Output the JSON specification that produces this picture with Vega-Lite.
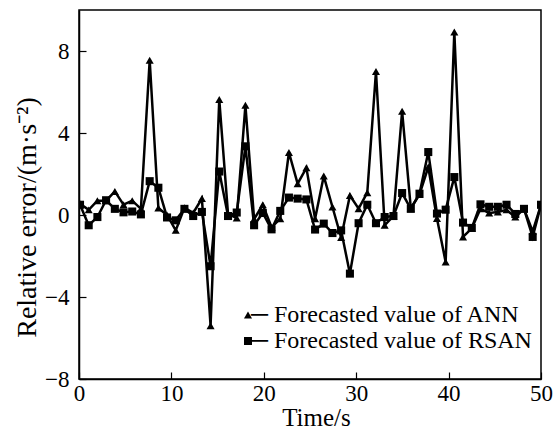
{
  "$schema": "https://vega.github.io/schema/vega-lite/v6.json",
  "width": 462,
  "height": 369,
  "autosize": {"type": "none"},
  "padding": {"left": 79, "top": 10, "right": 13, "bottom": 53},
  "background": "white",
  "config": {
    "view": {"stroke": "black", "strokeWidth": 1.5},
    "font": "Liberation Serif",
    "axis": {
      "labelFont": "Liberation Serif",
      "titleFont": "Liberation Serif",
      "labelFontSize": 23,
      "titleFontSize": 25,
      "titleFontWeight": "normal",
      "labelColor": "black",
      "titleColor": "black",
      "domainColor": "black",
      "domainWidth": 1.5,
      "tickColor": "black",
      "tickWidth": 1.2,
      "grid": false
    },
    "legend": {
      "labelFont": "Liberation Serif",
      "labelFontSize": 24,
      "labelColor": "black"
    }
  },
  "datasets": {
    "series": [
      {"t": 0.11, "ANN": 0.55, "RSAN": 0.5},
      {"t": 1.05, "ANN": 0.25, "RSAN": -0.5},
      {"t": 1.99, "ANN": 0.7, "RSAN": -0.1},
      {"t": 2.93, "ANN": 0.7, "RSAN": 0.72},
      {"t": 3.88, "ANN": 1.15, "RSAN": 0.3},
      {"t": 4.82, "ANN": 0.5, "RSAN": 0.13},
      {"t": 5.76, "ANN": 0.7, "RSAN": 0.17},
      {"t": 6.7, "ANN": 0.3, "RSAN": 0.03},
      {"t": 7.65, "ANN": 7.55, "RSAN": 1.65},
      {"t": 8.59, "ANN": 0.34, "RSAN": 1.33},
      {"t": 9.53, "ANN": 0.0, "RSAN": -0.12},
      {"t": 10.47, "ANN": -0.75, "RSAN": -0.26},
      {"t": 11.41, "ANN": 0.35, "RSAN": 0.3},
      {"t": 12.36, "ANN": 0.1, "RSAN": -0.05},
      {"t": 13.3, "ANN": 0.8, "RSAN": 0.15},
      {"t": 14.24, "ANN": -5.4, "RSAN": -2.5},
      {"t": 15.18, "ANN": 5.63, "RSAN": 2.12},
      {"t": 16.13, "ANN": 0.05, "RSAN": -0.05},
      {"t": 17.07, "ANN": -0.15, "RSAN": 0.12},
      {"t": 18.01, "ANN": 5.35, "RSAN": 3.35},
      {"t": 18.95, "ANN": -0.2, "RSAN": -0.5},
      {"t": 19.89, "ANN": 0.5, "RSAN": 0.1},
      {"t": 20.84, "ANN": -0.6, "RSAN": -0.7},
      {"t": 21.78, "ANN": -0.18, "RSAN": 0.2},
      {"t": 22.72, "ANN": 3.05, "RSAN": 0.85},
      {"t": 23.66, "ANN": 1.53, "RSAN": 0.8},
      {"t": 24.61, "ANN": 2.3, "RSAN": 0.76},
      {"t": 25.55, "ANN": -0.18, "RSAN": -0.71},
      {"t": 26.49, "ANN": 1.9, "RSAN": -0.42},
      {"t": 27.43, "ANN": 0.39, "RSAN": -0.88},
      {"t": 28.37, "ANN": -1.1, "RSAN": -0.75},
      {"t": 29.32, "ANN": 0.95, "RSAN": -2.86},
      {"t": 30.26, "ANN": 0.31, "RSAN": -0.4},
      {"t": 31.2, "ANN": 1.09, "RSAN": 0.5},
      {"t": 32.14, "ANN": 7.0, "RSAN": -0.4},
      {"t": 33.08, "ANN": -0.5, "RSAN": -0.1},
      {"t": 34.03, "ANN": -0.05, "RSAN": -0.05},
      {"t": 34.97, "ANN": 5.06, "RSAN": 1.07},
      {"t": 35.91, "ANN": 0.33, "RSAN": 0.3},
      {"t": 36.85, "ANN": 1.0, "RSAN": 1.04},
      {"t": 37.8, "ANN": 2.34, "RSAN": 3.07},
      {"t": 38.74, "ANN": -0.17, "RSAN": 0.07},
      {"t": 39.68, "ANN": -2.29, "RSAN": 0.26},
      {"t": 40.62, "ANN": 8.93, "RSAN": 1.85},
      {"t": 41.56, "ANN": -1.07, "RSAN": -0.37},
      {"t": 42.51, "ANN": -0.65, "RSAN": -0.63},
      {"t": 43.45, "ANN": 0.3, "RSAN": 0.52},
      {"t": 44.39, "ANN": 0.1, "RSAN": 0.4},
      {"t": 45.33, "ANN": 0.15, "RSAN": 0.4},
      {"t": 46.27, "ANN": 0.25, "RSAN": 0.5},
      {"t": 47.22, "ANN": -0.1, "RSAN": 0.05},
      {"t": 48.16, "ANN": 0.3, "RSAN": 0.3},
      {"t": 49.1, "ANN": -0.8, "RSAN": -1.07},
      {"t": 50.0, "ANN": 0.5, "RSAN": 0.5}
    ]
  },
  "data": {"name": "series"},
  "transform": [
    {"fold": ["ANN", "RSAN"], "as": ["model", "value"]}
  ],
  "encoding": {
    "x": {
      "field": "t",
      "type": "quantitative",
      "scale": {"domain": [0, 50], "nice": false, "zero": false},
      "axis": {
        "title": "Time/s",
        "values": [0, 10, 20, 30, 40, 50],
        "tickSize": -7,
        "labelPadding": 10,
        "titlePadding": 0,
        "titleX": 237,
        "labelFlush": false
      }
    },
    "y": {
      "field": "value",
      "type": "quantitative",
      "scale": {"domain": [-8, 10], "nice": false, "zero": false},
      "axis": {
        "title": "Relative error/(m·s⁻²)",
        "titleFontSize": 28,
        "titleY": 207,
        "values": [-8, -4, 0, 4, 8],
        "tickSize": -7,
        "labelPadding": 17,
        "titlePadding": 3,
        "labelFlush": false
      }
    }
  },
  "layer": [
    {
      "mark": {"type": "line", "color": "black", "strokeWidth": 2.5, "clip": true},
      "encoding": {"detail": {"field": "model"}}
    },
    {
      "mark": {"type": "point", "filled": true, "opacity": 1, "color": "black", "size": 65, "clip": true},
      "encoding": {
        "shape": {
          "field": "model",
          "type": "nominal",
          "scale": {"domain": ["ANN", "RSAN"], "range": ["triangle-up", "square"]},
          "legend": {
            "title": null,
            "orient": "none",
            "legendX": 157,
            "legendY": 293,
            "padding": 0,
            "labelExpr": "'─ Forecasted value of ' + datum.label",
            "labelOffset": -9,
            "symbolFillColor": "black",
            "symbolStrokeColor": "black",
            "symbolSize": 65,
            "rowPadding": 2,
            "labelLimit": 400
          }
        }
      }
    }
  ]
}
